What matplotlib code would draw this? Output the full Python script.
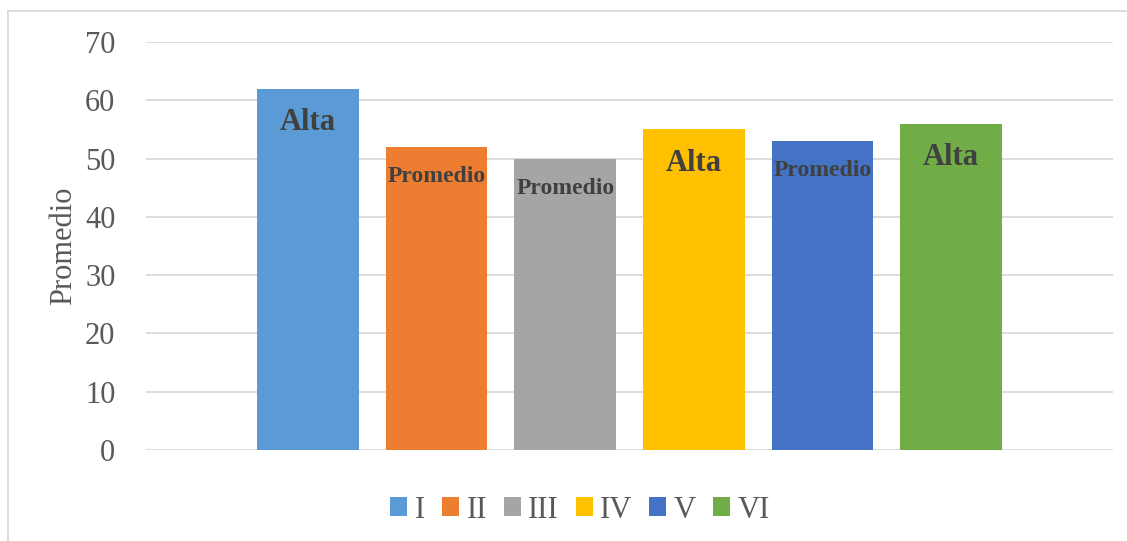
import matplotlib
matplotlib.use("Agg")
import matplotlib.pyplot as plt
from matplotlib.patches import Patch
from matplotlib.lines import Line2D

plt.rcParams['font.family'] = ['Liberation Serif', 'DejaVu Serif']

series = ["I", "II", "III", "IV", "V", "VI"]
values = [62, 52, 50, 55, 53, 56]
levels = ["Alta", "Promedio", "Promedio", "Alta", "Promedio", "Alta"]
colors = ["#5B9BD5", "#ED7D31", "#A5A5A5", "#FFC000", "#4472C4", "#70AD47"]
y_ticks = [0, 10, 20, 30, 40, 50, 60, 70]

W, H = 1127, 541
fig = plt.figure(figsize=(W / 100, H / 100), dpi=100)
ax = fig.add_axes([146 / W, 1 - 450 / H, (1113 - 146) / W, (450 - 42) / H])

x = list(range(len(series)))
bars = ax.bar(x, values, width=0.79, color=colors, zorder=2)

for xi, v, lab in zip(x, values, levels):
    size = 22 if lab == "Alta" else 17
    off = -24.5 if lab == "Alta" else -21.5
    ax.annotate(lab, xy=(xi, v), xytext=(0, off), textcoords="offset points",
                ha="center", va="center", fontsize=size, fontweight="bold",
                color="#404040", zorder=3)

ax.set_xlim(-1.26, 6.26)
ax.set_ylim(0, 70)
ax.set_yticks(y_ticks)
ax.set_xticks([])
ax.yaxis.grid(True, color="#D9D9D9", linewidth=1.3, zorder=0)
ax.set_axisbelow(True)
for s in ax.spines.values():
    s.set_visible(False)
ax.tick_params(axis="y", length=0, pad=22, labelsize=22, labelcolor="#595959")
ax.set_ylabel("Promedio", fontsize=22, color="#595959", labelpad=5)

handles = [Patch(facecolor=c, edgecolor="none") for c in colors]
fig.legend(handles, series, loc="center", ncol=6,
           bbox_to_anchor=(580 / W, 1 - 510 / H), frameon=False,
           fontsize=22, labelcolor="#595959",
           handlelength=0.55, handleheight=0.55, handletextpad=0.25,
           columnspacing=0.55)

# chart area border (top and left edges)
fig.add_artist(Line2D([7.5 / W, 1.0], [1 - 10.5 / H, 1 - 10.5 / H],
                      transform=fig.transFigure, color="#D9D9D9", linewidth=1.3))
fig.add_artist(Line2D([7.5 / W, 7.5 / W], [0, 1 - 10.5 / H],
                      transform=fig.transFigure, color="#D9D9D9", linewidth=1.3))

fig.savefig("out.png", dpi=100)
